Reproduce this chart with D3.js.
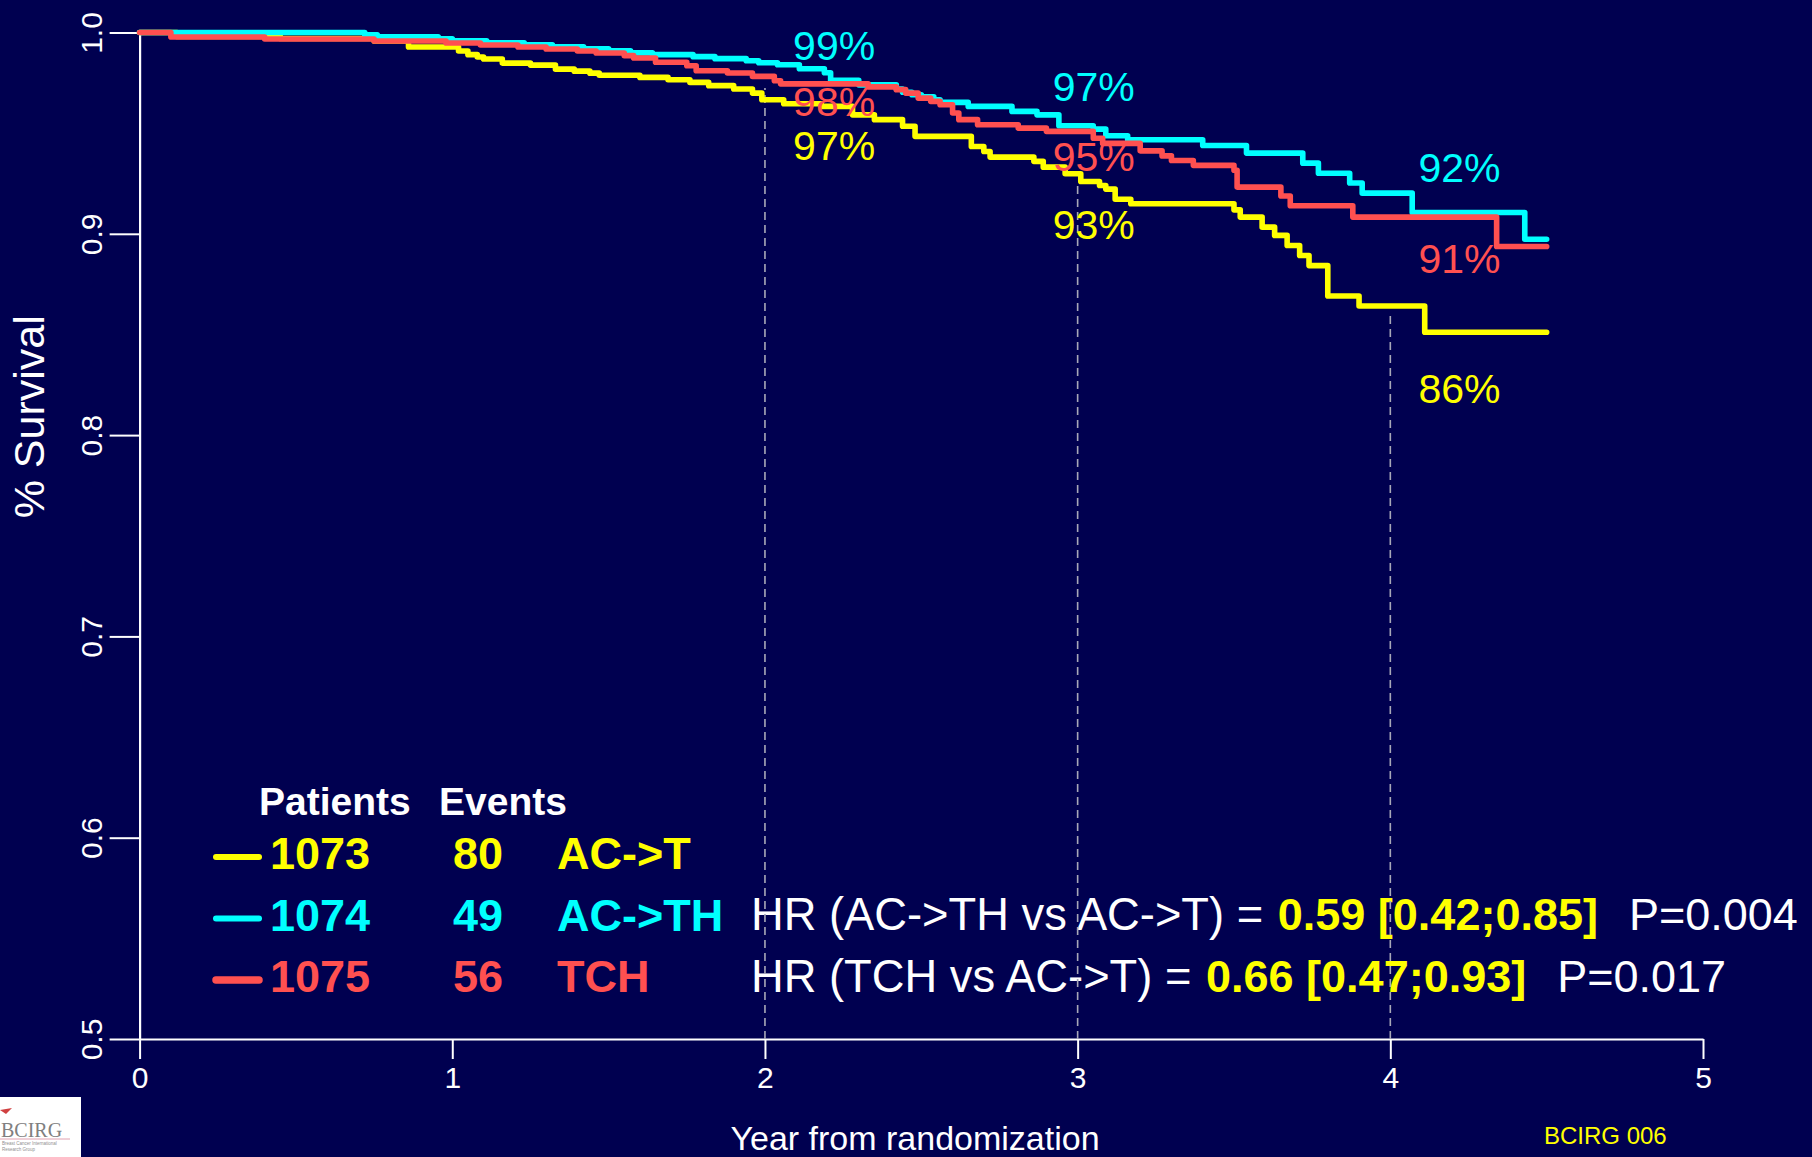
<!DOCTYPE html>
<html>
<head>
<meta charset="utf-8">
<script src="https://cdn.jsdelivr.net/npm/d3@7"></script>
<style>
  html, body { margin: 0; padding: 0; background: #000050; }
  svg { display: block; font-family: "Liberation Sans", Arial, sans-serif; }
</style>
</head>
<body>
<div id="chart"></div>
<script>
// axis ticks
const yearTicks = [0, 1, 2, 3, 4, 5];
const survivalTicks = [0.5, 0.6, 0.7, 0.8, 0.9, 1.0];
const followUpEnd = 4.5;

// Kaplan-Meier steps (time in years, survival)
const actTimes = [0, 0.12, 0.45, 0.75, 0.86, 1.02, 1.05, 1.08, 1.10, 1.16, 1.25, 1.33, 1.39, 1.44, 1.47, 1.60, 1.69, 1.76, 1.82, 1.90, 1.96, 1.99, 2.06, 2.18, 2.28, 2.35, 2.44, 2.48, 2.66, 2.70, 2.72, 2.86, 2.89, 2.96, 3.01, 3.07, 3.09, 3.12, 3.17, 3.50, 3.52, 3.59, 3.63, 3.67, 3.71, 3.74, 3.80, 3.90, 4.11];
const actSurv = [1.0, 0.998, 0.997, 0.9958, 0.9928, 0.9908, 0.9890, 0.9878, 0.9868, 0.9848, 0.9838, 0.9818, 0.9808, 0.9798, 0.9788, 0.9777, 0.9765, 0.9752, 0.9736, 0.9719, 0.9699, 0.9666, 0.9646, 0.9633, 0.9591, 0.9567, 0.9534, 0.9484, 0.9434, 0.9409, 0.9381, 0.9360, 0.9331, 0.9298, 0.9260, 0.9240, 0.9222, 0.9172, 0.9149, 0.9119, 0.9083, 0.9033, 0.8992, 0.8942, 0.8892, 0.8842, 0.8691, 0.8641, 0.8511];

const acthTimes = [0, 0.72, 0.76, 0.955, 1.00, 1.11, 1.23, 1.32, 1.42, 1.50, 1.57, 1.64, 1.77, 1.84, 1.94, 1.98, 2.04, 2.11, 2.19, 2.21, 2.30, 2.42, 2.44, 2.47, 2.50, 2.54, 2.56, 2.65, 2.79, 2.87, 2.94, 3.05, 3.09, 3.16, 3.40, 3.54, 3.72, 3.77, 3.87, 3.91, 4.07, 4.43];
const acthSurv = [1.0, 0.9989, 0.9979, 0.9969, 0.9959, 0.9949, 0.9939, 0.9929, 0.9919, 0.9909, 0.9899, 0.9890, 0.9880, 0.9870, 0.9860, 0.9850, 0.9840, 0.9820, 0.9800, 0.9762, 0.9740, 0.9719, 0.9703, 0.9691, 0.9680, 0.9666, 0.9653, 0.9633, 0.9608, 0.9591, 0.9537, 0.9520, 0.9487, 0.9467, 0.9439, 0.9401, 0.9351, 0.9301, 0.9252, 0.9202, 0.9106, 0.8973];

const tchTimes = [0, 0.10, 0.40, 0.75, 0.98, 1.09, 1.21, 1.30, 1.40, 1.46, 1.55, 1.58, 1.65, 1.75, 1.78, 1.88, 1.96, 2.03, 2.05, 2.33, 2.42, 2.45, 2.49, 2.53, 2.56, 2.60, 2.62, 2.68, 2.81, 2.90, 3.05, 3.08, 3.20, 3.27, 3.30, 3.37, 3.50, 3.51, 3.65, 3.68, 3.88, 4.34];
const tchSurv = [1.0, 0.9978, 0.9968, 0.9958, 0.9948, 0.9938, 0.9928, 0.9918, 0.9908, 0.9898, 0.9885, 0.9873, 0.9852, 0.9835, 0.9810, 0.9799, 0.9782, 0.9760, 0.9745, 0.9730, 0.9716, 0.9699, 0.9674, 0.9658, 0.9641, 0.9600, 0.9567, 0.9542, 0.9525, 0.9509, 0.9475, 0.9449, 0.9412, 0.9387, 0.9364, 0.9340, 0.9316, 0.9232, 0.9188, 0.9139, 0.9083, 0.8937];

// legend
const armNames = ['AC->T', 'AC->TH', 'TCH'];
const armPatients = [1073, 1074, 1075];
const armEvents = [80, 49, 56];

// landmark lines and the percentages written next to them (cyan, red, yellow)
const landmarkYears = [2, 3, 4];
const landmarkLevels = [0.9724, 0.9257, 0.8607];
const landmarkLabels = [['99%', '98%', '97%'], ['97%', '95%', '93%'], ['92%', '91%', '86%']];
const labelYears = [2.09, 2.92, 4.09];
const labelLevels = [[0.9863, 0.9585, 0.9367], [0.9661, 0.9314, 0.8974], [0.9259, 0.8804, 0.8159]];

// hazard ratios
const hrComparisons = ['HR (AC->TH vs AC->T) = ', 'HR (TCH vs AC->T) = '];
const hrValues = ['0.59 [0.42;0.85]', '0.66 [0.47;0.93]'];
const pValues = ['P=0.004', 'P=0.017'];

const YELLOW = '#ffff00', CYAN = '#00ffff', RED = '#ff5050';
const armColors = [YELLOW, CYAN, RED];
const labelColors = [CYAN, RED, YELLOW];

const width = 1812, height = 1157;

const svg = d3.select('#chart')
  .append('svg')
  .attr('width', width)
  .attr('height', height);

svg.append('rect')
  .attr('width', width)
  .attr('height', height)
  .attr('fill', '#000050');

const x = d3.scaleLinear().domain([0, 5]).range([139.6, 1703]);
const y = d3.scaleLinear().domain([0.5, 1]).range([1039, 32.5]);

// axes
const xAxis = svg.append('g')
  .attr('transform', `translate(0,${y(0.5)})`)
  .call(d3.axisBottom(x).tickValues(yearTicks).tickFormat(d3.format('d')).tickSize(20).tickSizeOuter(0).tickPadding(8));

const yAxis = svg.append('g')
  .attr('transform', `translate(${x(0)},0)`)
  .call(d3.axisLeft(y).tickValues(survivalTicks).tickFormat(d3.format('.1f')).tickSize(30).tickSizeOuter(0));

[xAxis, yAxis].forEach(ax => {
  ax.select('.domain').attr('stroke', '#fff').attr('stroke-width', 2.2);
  ax.selectAll('.tick line').attr('stroke', '#fff').attr('stroke-width', 2);
  ax.selectAll('.tick text')
    .attr('fill', '#fff')
    .attr('font-size', 30)
    .attr('font-family', '"Liberation Sans", Arial, sans-serif');
});

yAxis.selectAll('.tick text')
  .attr('x', 0)
  .attr('dy', 0)
  .attr('text-anchor', 'middle')
  .attr('transform', 'translate(-38,0) rotate(-90)');

// axis titles
svg.append('text')
  .attr('transform', `translate(44,${(y(0.5) + y(1)) / 2 - 119}) rotate(-90)`)
  .attr('text-anchor', 'middle')
  .attr('fill', '#fff')
  .attr('font-size', 43)
  .text('% Survival');

svg.append('text')
  .attr('x', 915)
  .attr('y', 1150)
  .attr('text-anchor', 'middle')
  .attr('fill', '#fff')
  .attr('font-size', 34)
  .text('Year from randomization');

svg.append('text')
  .attr('x', 1544)
  .attr('y', 1144)
  .attr('fill', YELLOW)
  .attr('font-size', 24)
  .text('BCIRG 006');

// legend block
const legend = svg.append('g').attr('font-weight', 'bold');
legend.append('text').attr('x', 259).attr('y', 815).attr('fill', '#fff').attr('font-size', 39).text('Patients');
legend.append('text').attr('x', 439).attr('y', 815).attr('fill', '#fff').attr('font-size', 39).text('Events');

armNames.forEach((name, i) => {
  const base = 869 + i * 61.5;
  legend.append('line')
    .attr('x1', 216).attr('x2', 259)
    .attr('y1', base - 12).attr('y2', base - 12)
    .attr('stroke', armColors[i])
    .attr('stroke-width', i === 2 ? 7.5 : 6)
    .attr('stroke-linecap', 'round');
  legend.append('text').attr('x', 270).attr('y', base).attr('fill', armColors[i]).attr('font-size', 45).text(armPatients[i]);
  legend.append('text').attr('x', 503).attr('y', base).attr('text-anchor', 'end').attr('fill', armColors[i]).attr('font-size', 45).text(armEvents[i]);
  legend.append('text').attr('x', 557).attr('y', base).attr('fill', armColors[i]).attr('font-size', 45).text(name);
});

// hazard ratio lines
hrComparisons.forEach((label, i) => {
  const t = svg.append('text')
    .attr('x', 751)
    .attr('y', 930 + i * 62)
    .attr('font-size', 45)
    .style('white-space', 'pre');
  t.append('tspan').attr('fill', '#fff').attr('font-size', 45.3).text(label);
  t.append('tspan').attr('fill', YELLOW).attr('font-weight', 'bold').attr('dx', 2).text(hrValues[i]);
  t.append('tspan').attr('fill', '#fff').attr('dx', 31).text(pValues[i]);
});

// dashed landmark lines
svg.append('g')
  .selectAll('line')
  .data(landmarkYears)
  .join('line')
  .attr('x1', d => x(d))
  .attr('x2', d => x(d))
  .attr('y1', y(0.5))
  .attr('y2', (d, i) => y(landmarkLevels[i]))
  .attr('stroke', '#a8a8b8')
  .attr('stroke-width', 1.6)
  .attr('stroke-dasharray', '8,5');

// survival curves
const stepLine = d3.line()
  .x(d => x(d[0]))
  .y(d => y(d[1]))
  .curve(d3.curveStepAfter);

function steps(times, surv) {
  const pts = times.map((t, i) => [t, surv[i]]);
  pts.push([followUpEnd, surv[surv.length - 1]]);
  return pts;
}

const curves = [steps(actTimes, actSurv), steps(acthTimes, acthSurv), steps(tchTimes, tchSurv)];

svg.append('g')
  .selectAll('path')
  .data(curves)
  .join('path')
  .attr('d', stepLine)
  .attr('fill', 'none')
  .attr('stroke', (d, i) => armColors[i])
  .attr('stroke-width', 5.6)
  .attr('stroke-linejoin', 'round')
  .attr('stroke-linecap', 'round');

// percentage labels
landmarkYears.forEach((yr, i) => {
  landmarkLabels[i].forEach((txt, j) => {
    svg.append('text')
      .attr('x', x(labelYears[i]))
      .attr('y', y(labelLevels[i][j]))
      .attr('fill', labelColors[j])
      .attr('font-size', 41)
      .text(txt);
  });
});

// logo box bottom-left
const logo = svg.append('g');
logo.append('rect').attr('x', 0).attr('y', 1097).attr('width', 81).attr('height', 60).attr('fill', '#ffffff');
logo.append('path').attr('d', 'M0,1110 L12,1108 L6,1114 Z').attr('fill', '#d04040');
logo.append('text')
  .attr('x', 1).attr('y', 1137)
  .attr('font-family', '"Liberation Serif", serif')
  .attr('font-size', 20)
  .attr('fill', '#808080')
  .text('BCIRG');
logo.append('line').attr('x1', 0).attr('x2', 70).attr('y1', 1139).attr('y2', 1139).attr('stroke', '#e0a0b0').attr('stroke-width', 1);
logo.append('text').attr('x', 2).attr('y', 1145).attr('font-size', 4.5).attr('fill', '#909090').text('Breast Cancer International');
logo.append('text').attr('x', 2).attr('y', 1151).attr('font-size', 4.5).attr('fill', '#909090').text('Research Group');
</script>
</body>
</html>
